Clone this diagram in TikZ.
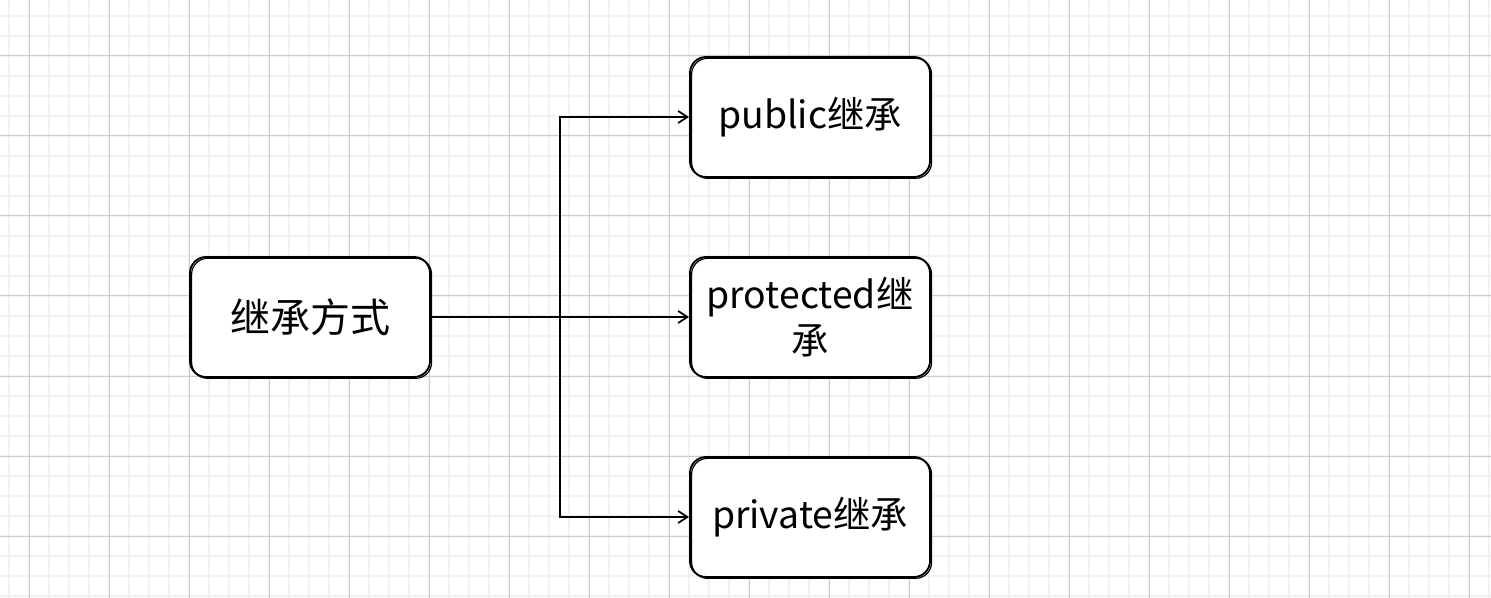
\documentclass[tikz,border=0pt]{standalone}
\usepackage{fontspec}
\setmainfont{Noto Sans CJK SC}
\usetikzlibrary{arrows.meta,positioning}

\definecolor{minorgrid}{HTML}{F2F2F2}
\definecolor{majorgrid}{HTML}{CACACA}

\tikzset{
  box/.style={draw, line width=1.4pt, rounded corners=12pt, fill=white,
    minimum width=180pt, minimum height=90pt, align=center,
    font=\fontsize{28}{34}\selectfont,
    postaction={draw, line width=0.9pt, transform canvas={xshift=1.2pt,yshift=-1pt}}},
  link/.style={line width=1.3pt, -{Straight Barb[length=7pt,width=9pt,line width=1.3pt]}}
}

\begin{document}
\begin{tikzpicture}[x=0.75pt,y=-0.75pt]
\useasboundingbox (0,0) rectangle (1491,598);
\fill[white] (0,0) rectangle (1491,598);
% grid
\foreach \gx in {9,29,...,1489} \draw[minorgrid, line width=1.5pt] (\gx,0) -- (\gx,598);
\foreach \gy in {16,36,...,596} \draw[minorgrid, line width=1.5pt] (0,\gy) -- (1491,\gy);
\foreach \gx in {29,109,...,1469} \draw[majorgrid, line width=0.75pt] (\gx,0) -- (\gx,598);
\foreach \gy in {56,136,...,536} \draw[majorgrid, line width=0.75pt] (0,\gy) -- (1491,\gy);

\node[box, font=\fontsize{30}{36}\selectfont] (way) at (310,317) {继承方式};
\node[box] (pub) at (810,117) {public继承};
\node[box] (prot) at (810,317) {protected继\\承};
\node[box] (priv) at (810,517) {private继承};
\coordinate (trunk) at (560,317);

\path
(way) edge[line width=1.5pt] (trunk)
(trunk) edge[link] (prot)
(trunk) edge[link, to path={|- (\tikztotarget)}] (pub)
(trunk) edge[link, to path={|- (\tikztotarget)}] (priv);
\end{tikzpicture}
\end{document}
